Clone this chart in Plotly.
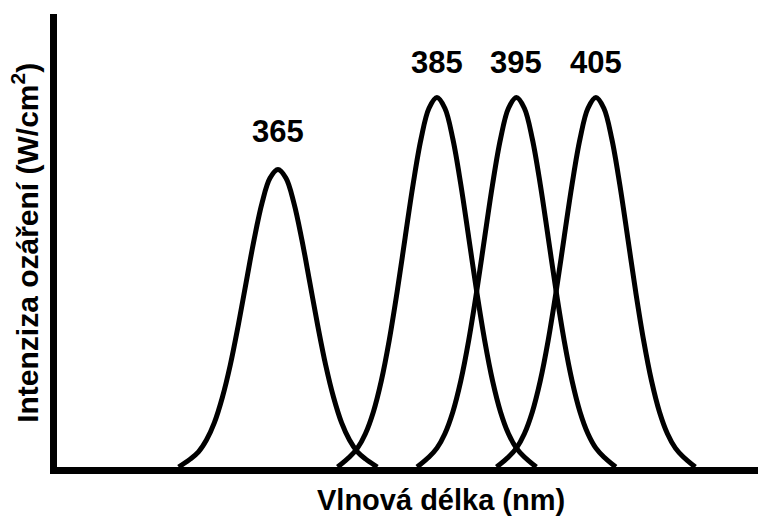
import plotly.graph_objects as go

# Wavelength samples (nm) and relative irradiance
wl_365 = [352.5, 354, 355, 356, 357, 358, 359, 360, 361, 362, 363, 364, 365,
          366, 367, 368, 369, 370, 371, 372, 373, 374, 375, 376, 377.5]
int_365 = [0, 0.022, 0.041, 0.073, 0.12, 0.188, 0.276, 0.383, 0.50, 0.616, 0.715, 0.782, 0.805,
           0.782, 0.715, 0.616, 0.50, 0.383, 0.276, 0.188, 0.12, 0.073, 0.041, 0.022, 0]

wl_385 = [372.5, 374, 375, 376, 377, 378, 379, 380, 381, 382, 383, 384, 385,
          386, 387, 388, 389, 390, 391, 392, 393, 394, 395, 396, 397.5]
int_385 = [0, 0.027, 0.051, 0.09, 0.149, 0.233, 0.343, 0.475, 0.621, 0.765, 0.888, 0.971, 1.0,
           0.971, 0.888, 0.765, 0.621, 0.475, 0.343, 0.233, 0.149, 0.09, 0.051, 0.027, 0]

wl_395 = [382.5, 384, 385, 386, 387, 388, 389, 390, 391, 392, 393, 394, 395,
          396, 397, 398, 399, 400, 401, 402, 403, 404, 405, 406, 407.5]
int_395 = [0, 0.027, 0.051, 0.09, 0.149, 0.233, 0.343, 0.475, 0.621, 0.765, 0.888, 0.971, 1.0,
           0.971, 0.888, 0.765, 0.621, 0.475, 0.343, 0.233, 0.149, 0.09, 0.051, 0.027, 0]

wl_405 = [392.5, 394, 395, 396, 397, 398, 399, 400, 401, 402, 403, 404, 405,
          406, 407, 408, 409, 410, 411, 412, 413, 414, 415, 416, 417.5]
int_405 = [0, 0.027, 0.051, 0.09, 0.149, 0.233, 0.343, 0.475, 0.621, 0.765, 0.888, 0.971, 1.0,
           0.971, 0.888, 0.765, 0.621, 0.475, 0.343, 0.233, 0.149, 0.09, 0.051, 0.027, 0]

peak_labels = ["365", "385", "395", "405"]
peak_wl = [365, 385, 395, 405]
peak_label_y = [0.907, 1.095, 1.095, 1.095]

x_title = "<b>Vlnová délka (nm)</b>"
y_title = "<b>Intenziza ozáření (W/cm<sup>2</sup>)</b>"

fig = go.Figure()
for xs, ys in [(wl_365, int_365), (wl_385, int_385), (wl_395, int_395), (wl_405, int_405)]:
    fig.add_trace(go.Scatter(x=xs, y=ys, mode="lines",
                             line=dict(color="black", width=5, shape="spline", smoothing=1.0),
                             showlegend=False, hoverinfo="skip"))

label_font = dict(family="Liberation Sans, Arial", size=31, color="black")
for t, xw, yl in zip(peak_labels, peak_wl, peak_label_y):
    fig.add_annotation(x=xw, y=yl, xref="x", yref="y", text="<b>" + t + "</b>",
                       showarrow=False, font=label_font, xanchor="center", yanchor="middle")

title_font = dict(family="Liberation Sans, Arial", size=29, color="black")
fig.add_annotation(x=0.5416, y=-0.072, xref="paper", yref="paper", text=x_title,
                   showarrow=False, font=title_font, xanchor="center", yanchor="middle")
fig.add_annotation(x=-0.045, y=0.495, xref="paper", yref="paper", text=y_title,
                   showarrow=False, font=dict(family="Liberation Sans, Arial", size=30, color="black"),
                   xanchor="center", yanchor="middle", textangle=-90)

fig.update_xaxes(range=[337.2, 426.4], showline=True, linewidth=7, linecolor="black",
                 showgrid=False, zeroline=False, showticklabels=False, ticks="")
fig.update_yaxes(range=[0, 1.226], showline=True, linewidth=7, linecolor="black",
                 showgrid=False, zeroline=False, showticklabels=False, ticks="")

# page body adds an 8px offset, so the figure is 8px smaller and shifted
fig.update_layout(width=758, height=508, margin=dict(l=49, r=0, t=6, b=48.5),
                  plot_bgcolor="white", paper_bgcolor="white")

fig.write_html("out.html")
